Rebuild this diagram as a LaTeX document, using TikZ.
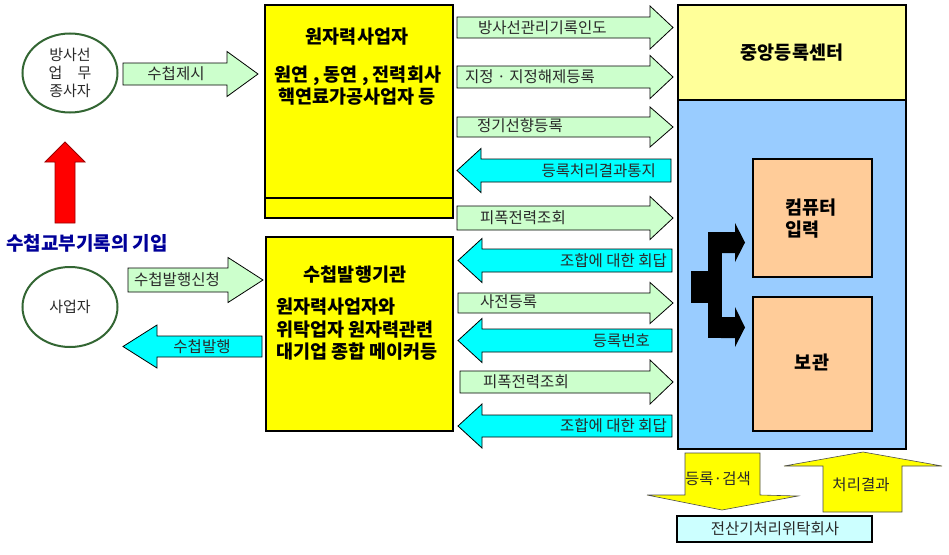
\documentclass[tikz,border=0pt]{standalone}
\usepackage{fontspec}
\setmainfont{Noto Sans CJK KR}
\usetikzlibrary{shapes.geometric}
\definecolor{lgreen}{HTML}{CCFFCC}
\definecolor{cyanA}{HTML}{00FFFF}
\definecolor{yel}{HTML}{FFFF00}
\definecolor{lyel}{HTML}{FFFF99}
\definecolor{lblue}{HTML}{99CCFF}
\definecolor{orng}{HTML}{FFCC99}
\definecolor{lcyan}{HTML}{CCFFFF}
\definecolor{egreen}{HTML}{336633}
\definecolor{ttext}{HTML}{2A2A2A}
\definecolor{btext}{HTML}{000099}
\tikzset{
 arrline/.style={draw=black, line width=0.8pt, line join=miter},
 boxline/.style={draw=black, line width=2.2pt},
 lbl/.style={font=\fontsize{15.5}{17}\selectfont, text=ttext, inner sep=0pt},
 ttl/.style={font=\fontsize{18.5}{22}\selectfont\bfseries, text=black, inner sep=0pt},
 ell/.style={ellipse, draw=egreen, line width=2pt, inner sep=0pt, font=\fontsize{15}{18}\selectfont, text=ttext, align=center},
}
% right-pointing block arrow: left, headbase, tip, yc, bodyhalf, headhalf, fill
\newcommand\RArrow[7]{\draw[arrline,fill=#7] (#1,#4-#5) -- (#2,#4-#5) -- (#2,#4-#6) -- (#3,#4) -- (#2,#4+#6) -- (#2,#4+#5) -- (#1,#4+#5) -- cycle;}
% left-pointing block arrow: right, headbase, tip, yc, bodyhalf, headhalf, fill
\newcommand\LArrow[7]{\draw[arrline,fill=#7] (#1,#4-#5) -- (#2,#4-#5) -- (#2,#4-#6) -- (#3,#4) -- (#2,#4+#6) -- (#2,#4+#5) -- (#1,#4+#5) -- cycle;}
\begin{document}
\begin{tikzpicture}[x=1pt,y=-1pt]
\useasboundingbox[fill=white] (0,0) rectangle (949,554);

% ---- left side ----
\node[ell, minimum width=95pt, minimum height=79pt] (worker) at (70,73) {방사선\\업\hspace{1em}무\\종사자};
\node[ell, minimum width=95pt, minimum height=80pt] (biz) at (70,307) {사업자};

\RArrow{123}{227}{258}{74}{11}{22.5}{lgreen}
\node[lbl] (l0) at (176,74) {수첩제시};

\draw[line width=0.8pt, draw=red!60!black, fill=red] (55,223) -- (55,162) -- (45,162) -- (65,142) -- (85,162) -- (75,162) -- (75,223) -- cycle;
\node[font=\fontsize{19}{22}\selectfont\bfseries, text=btext, inner sep=0pt] (rec) at (87,243) {수첩교부기록의 기입};

\RArrow{128}{228}{263}{280}{12}{22.5}{lgreen}
\node[lbl] (l1) at (177,280) {수첩발행신청};
\LArrow{262}{157}{123}{346.5}{10.5}{21.5}{cyanA}
\node[lbl] (l2) at (202,346.5) {수첩발행};

% ---- yellow boxes ----
\draw[boxline, fill=yel] (265,5) rectangle (453,218);
\draw[boxline] (265,198) -- (453,198);
\node[ttl] (op) at (357,37) {원자력사업자};
\node[ttl] (op2) at (358,76) {원연 , 동연 , 전력회사};
\node[ttl] (op3) at (357,97) {핵연료가공사업자 등};

\draw[boxline, fill=yel] (266,237) rectangle (453,431);
\node[ttl] (iss) at (355,275) {수첩발행기관};
\node[ttl, anchor=west] (iss2) at (276,307) {원자력사업자와};
\node[ttl, anchor=west] (iss3) at (276,330) {위탁업자 원자력관련};
\node[ttl, anchor=west] (iss4) at (276,352) {대기업 종합 메이커등};

% ---- arrow column ----
\RArrow{457}{650}{673}{27.5}{10.5}{21.5}{lgreen}
\node[lbl, anchor=west] (a1) at (478,27.5) {방사선관리기록인도};
\RArrow{457}{650}{673}{77}{11}{21.5}{lgreen}
\node[lbl, anchor=west] (a2) at (465,77) {지정 · 지정해제등록};
\RArrow{457}{650}{673}{127}{10}{20}{lgreen}
\node[lbl, anchor=west] (a3) at (477,126) {정기선향등록};
\LArrow{671}{481}{457}{170.5}{11.5}{22}{cyanA}
\node[lbl, anchor=east] (a4) at (656,170.5) {등록처리결과통지};
\RArrow{457}{650}{673}{218}{12}{21.5}{lgreen}
\node[lbl, anchor=west] (a5) at (480,218) {피폭전력조회};
\LArrow{672}{482}{458}{260.5}{11.5}{22}{cyanA}
\node[lbl, anchor=east] (a6) at (667,260.5) {조합에 대한 회답};
\RArrow{458}{650}{673}{303}{10}{20.5}{lgreen}
\node[lbl, anchor=west] (a7) at (480,302) {사전등록};
\LArrow{672}{482}{458}{340.5}{11.5}{22}{cyanA}
\node[lbl, anchor=east] (a8) at (650,340.5) {등록번호};
\RArrow{460}{650}{673}{382}{11}{22}{lgreen}
\node[lbl, anchor=west] (a9) at (483,382) {피폭전력조회};
\LArrow{672}{482}{458}{426}{11}{22}{cyanA}
\node[lbl, anchor=east] (a10) at (667,426) {조합에 대한 회답};

% ---- right box ----
\fill[lyel] (678,5) rectangle (906,100);
\fill[lblue] (678,100) rectangle (906,449);
\draw[boxline] (678,5) rectangle (906,449);
\draw[boxline] (678,100) -- (906,100);
\node[ttl] (center) at (792,53) {중앙등록센터};

\draw[boxline, fill=orng] (753,159) rectangle (872,277);
\node[ttl, align=left, anchor=west] (comp) at (785,219) {컴퓨터\\입력};
\draw[boxline, fill=orng] (753,297) rectangle (872,431);
\node[ttl] (keep) at (812,362) {보관};

% black branching arrow
\fill[black] (691,271) rectangle (709,303);
\fill[black] (708,232) rectangle (722,338);
\fill[black] (721,232) -- (735,232) -- (735,223) -- (745,242.5) -- (735,262) -- (735,253) -- (721,253) -- cycle;
\fill[black] (721,317) -- (735,317) -- (735,307) -- (745,327.5) -- (735,347) -- (735,338) -- (721,338) -- cycle;

% ---- bottom ----
\draw[line width=0.6pt, draw=black!70, fill=yel] (685,453) -- (760,453) -- (760,495) -- (798,496) -- (722,510) -- (647,495) -- (685,495) -- cycle;
\node[lbl] (srch) at (718,479) {등록·검색};
\draw[line width=0.6pt, draw=black!70, fill=yel] (823,512) -- (823,466) -- (784,466) -- (863,452) -- (942,466) -- (902,466) -- (902,512) -- cycle;
\node[lbl] (res) at (861,485) {처리결과};
\draw[boxline, fill=lcyan] (677,516) rectangle (872,542);
\node[lbl] (ext) at (775,529) {전산기처리위탁회사};
\end{tikzpicture}
\end{document}
